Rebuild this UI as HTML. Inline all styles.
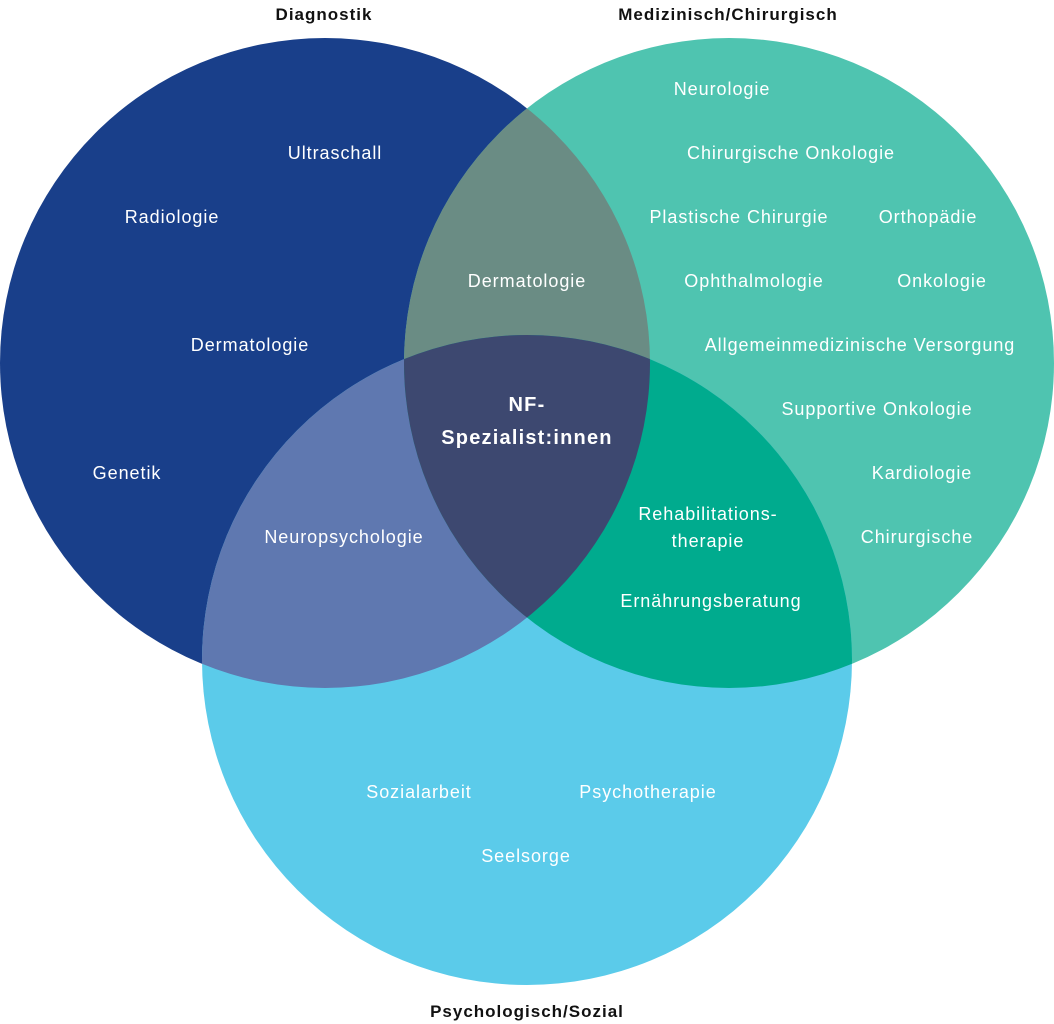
<!DOCTYPE html>
<html><head><meta charset="utf-8"><style>
html,body{margin:0;padding:0;background:#fff;}
svg{display:block;}
text{font-family:"Liberation Sans",sans-serif;}
.w{fill:#fff;font-size:18px;letter-spacing:0.95px;text-anchor:middle;}
.t{fill:#111;font-size:17px;letter-spacing:1px;font-weight:bold;text-anchor:middle;}
.c{font-weight:bold;font-size:20px;letter-spacing:1.2px;}
</style></head><body>
<svg width="1054" height="1024" viewBox="0 0 1054 1024" xmlns="http://www.w3.org/2000/svg">
<defs>
<clipPath id="L"><circle cx="325" cy="363" r="325"/></clipPath>
<clipPath id="R"><circle cx="729" cy="363" r="325"/></clipPath>
<clipPath id="B"><circle cx="527" cy="660" r="325"/></clipPath>
</defs>
<circle cx="325" cy="363" r="325" fill="#193f8a"/>
<circle cx="729" cy="363" r="325" fill="#4fc4b0"/>
<circle cx="527" cy="660" r="325" fill="#5bcbea"/>
<g clip-path="url(#L)"><circle cx="729" cy="363" r="325" fill="#6a8c84"/></g>
<g clip-path="url(#L)"><circle cx="527" cy="660" r="325" fill="#5f78b0"/></g>
<g clip-path="url(#R)"><circle cx="527" cy="660" r="325" fill="#00ab8e"/></g>
<g clip-path="url(#L)"><g clip-path="url(#R)"><circle cx="527" cy="660" r="325" fill="#3d4870"/></g></g>

<text class="t" x="324" y="20">Diagnostik</text>
<text class="t" x="728" y="20">Medizinisch/Chirurgisch</text>
<text class="t" x="527" y="1017">Psychologisch/Sozial</text>

<text class="w" x="335" y="159">Ultraschall</text>
<text class="w" x="172" y="223">Radiologie</text>
<text class="w" x="250" y="351">Dermatologie</text>
<text class="w" x="127" y="479">Genetik</text>
<text class="w" x="344" y="543">Neuropsychologie</text>
<text class="w" x="527" y="287">Dermatologie</text>
<text class="w c" x="527" y="411">NF-</text>
<text class="w c" x="527" y="444">Spezialist:innen</text>
<text class="w" x="722" y="95">Neurologie</text>
<text class="w" x="791" y="159">Chirurgische Onkologie</text>
<text class="w" x="739" y="223">Plastische Chirurgie</text>
<text class="w" x="928" y="223">Orthopädie</text>
<text class="w" x="754" y="287">Ophthalmologie</text>
<text class="w" x="942" y="287">Onkologie</text>
<text class="w" x="860" y="351">Allgemeinmedizinische Versorgung</text>
<text class="w" x="877" y="415">Supportive Onkologie</text>
<text class="w" x="922" y="479">Kardiologie</text>
<text class="w" x="917" y="543">Chirurgische</text>
<text class="w" x="708" y="520">Rehabilitations-</text>
<text class="w" x="708" y="547">therapie</text>
<text class="w" x="711" y="607">Ernährungsberatung</text>
<text class="w" x="419" y="798">Sozialarbeit</text>
<text class="w" x="648" y="798">Psychotherapie</text>
<text class="w" x="526" y="862">Seelsorge</text>
</svg>
</body></html>
